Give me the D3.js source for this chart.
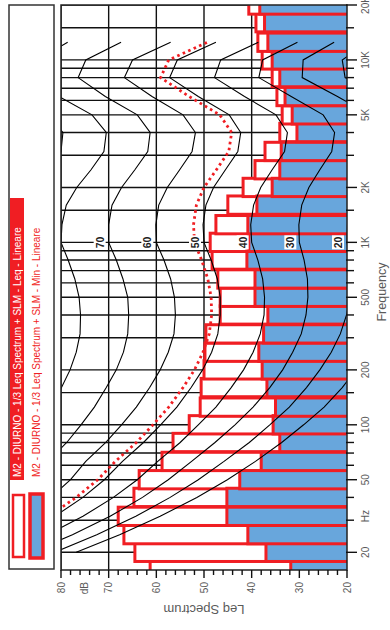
<!DOCTYPE html>
<html>
<head>
<meta charset="utf-8">
<script src="https://cdn.jsdelivr.net/npm/d3@7"></script>
<style>
  body { margin: 0; background: #fff; }
  svg { display: block; font-family: "Liberation Sans", Arial, sans-serif; }
</style>
</head>
<body>
<script>
// 1/3-octave band centres (Hz)
const bands = [16, 20, 25, 31.5, 40, 50, 63, 80, 100, 125, 160, 200, 250, 315, 400, 500,
  630, 800, 1000, 1250, 1600, 2000, 2500, 3150, 4000, 5000, 6300, 8000, 10000, 12500, 16000, 20000];
// Leq per band (dB)
const leqValues = [61.3, 64.5, 66.8, 68.0, 64.7, 63.6, 58.8, 56.5, 53.1, 50.8, 50.6, 50.0, 49.8, 49.6, 46.6, 46.6,
  47.1, 48.3, 48.7, 47.5, 45.0, 41.8, 39.3, 37.2, 34.1, 33.6, 34.7, 35.7, 37.8, 38.7, 39.1, 40.6];
// Min per band (dB)
const minValues = [31.8, 37.0, 40.8, 45.2, 45.2, 42.5, 38.0, 34.1, 35.5, 35.0, 36.8, 37.8, 38.5, 37.5, 36.6, 39.3,
  39.3, 41.0, 40.6, 40.8, 38.9, 35.7, 34.1, 33.8, 30.5, 31.5, 33.0, 34.1, 35.7, 36.6, 37.3, 38.3];

// Equal-loudness contours (ISO 226), dB SPL at these frequencies
const isoFreq = [20, 25, 31.5, 40, 50, 63, 80, 100, 125, 160, 200, 250, 315, 400, 500, 630, 800,
  1000, 1250, 1600, 2000, 2500, 3150, 4000, 5000, 6300, 8000, 10000, 12500];
const phon10 = [76.8, 67.7, 59.2, 51.5, 45.1, 39.2, 33.7, 29.1, 24.8, 21.0, 18.1, 15.6, 13.4, 11.9, 10.9, 10.1, 9.9,
  10.0, 9.7, 8.7, 7.2, 5.0, 2.6, 2.2, 4.8, 12.2, 20.4, 21.0, 15.5];
const phon20 = [81.3, 72.5, 64.3, 57.1, 51.2, 45.8, 40.5, 36.2, 32.1, 28.5, 25.7, 23.3, 21.4, 20.1, 19.4, 19.1, 19.4,
  20.0, 19.9, 19.2, 17.7, 15.4, 13.0, 12.5, 15.0, 22.0, 29.4, 29.2, 22.7];
const phon30 = [86.0, 77.6, 69.7, 62.9, 57.5, 52.6, 47.7, 43.5, 39.7, 36.2, 33.5, 31.4, 29.6, 28.6, 28.2, 28.3, 29.0,
  30.0, 30.1, 29.5, 28.0, 25.7, 23.2, 22.6, 25.0, 31.7, 38.5, 37.7, 30.4];
const phon40 = [91.0, 82.9, 75.4, 69.0, 64.0, 59.7, 55.0, 51.2, 47.5, 44.3, 41.7, 39.7, 38.2, 37.4, 37.3, 37.7, 38.7,
  40.0, 40.2, 39.6, 38.1, 35.7, 33.1, 32.5, 34.9, 41.5, 47.8, 46.5, 38.6];
const phon50 = [96.2, 88.5, 81.3, 75.4, 70.9, 67.1, 62.7, 59.1, 55.7, 52.7, 50.3, 48.4, 47.1, 46.6, 46.6, 47.2, 48.5,
  50.0, 50.2, 49.6, 48.0, 45.5, 42.9, 42.3, 44.7, 51.2, 57.2, 55.6, 47.5];
const phon60 = [101.7, 94.4, 87.6, 82.1, 78.0, 74.8, 70.6, 67.3, 64.2, 61.4, 59.2, 57.5, 56.3, 56.0, 56.2, 57.0, 58.4,
  60.0, 60.1, 59.5, 57.7, 55.1, 52.5, 51.8, 54.4, 60.9, 66.7, 65.0, 57.0];
const phon70 = [107.6, 100.7, 94.3, 89.2, 85.5, 82.8, 78.8, 75.8, 73.0, 70.5, 68.4, 66.9, 66.0, 65.8, 66.0, 67.0, 68.4,
  70.0, 70.0, 69.3, 67.3, 64.5, 61.8, 61.3, 64.0, 70.7, 76.4, 74.8, 67.4];
const phon80 = [113.7, 107.3, 101.3, 96.6, 93.3, 91.1, 87.4, 84.7, 82.2, 79.9, 78.1, 76.8, 76.0, 75.9, 76.2, 77.1, 78.5,
  80.0, 79.8, 78.9, 76.7, 73.7, 71.0, 70.5, 73.5, 80.4, 86.3, 84.9, 78.6];
const phon90 = [120.3, 114.4, 108.7, 104.4, 101.5, 99.8, 96.3, 94.0, 91.8, 89.8, 88.1, 87.1, 86.4, 86.4, 86.6, 87.5, 88.7,
  90.0, 89.5, 88.4, 85.9, 82.7, 80.0, 79.6, 82.9, 90.1, 96.4, 95.5, 90.9];
// Loudness contour of the measured spectrum (red dotted)
const phonSpectrum = [97.3, 89.7, 82.6, 76.8, 72.3, 68.6, 64.2, 60.7, 57.4, 54.4, 52.0, 50.2, 48.9, 48.4, 48.5, 49.2, 50.5,
  52.0, 52.2, 51.6, 50.0, 47.4, 44.8, 44.2, 46.7, 53.1, 59.1, 57.4, 49.3];
const contourValues = [phon10, phon20, phon30, phon40, phon50, phon60, phon70, phon80, phon90];
const labelledLevels = [20, 30, 40, 50, 60, 70];

// Axis ticks
const freqTicks = [20, 30, 40, 50, 60, 70, 80, 90, 100, 150, 200, 300, 400, 500, 600, 700, 800, 900,
  1000, 1500, 2000, 3000, 4000, 5000, 6000, 7000, 8000, 9000, 10000, 15000, 20000];
const freqLabelValues = [20, 50, 100, 200, 500, 1000, 2000, 5000, 10000, 20000];
const freqLabelTexts = ["20", "50", "100", "200", "500", "1K", "2K", "5K", "10K", "20K"];
const dbTicks = [20, 30, 40, 50, 60, 70, 80];

const legendTexts = [
  "M2 - DIURNO - 1/3 Leq Spectrum + SLM - Leq - Lineare",
  "M2 - DIURNO - 1/3 Leq Spectrum + SLM - Min - Lineare"
];

const RED = "#f01e23";
const BLUE = "#68a6dc";
const GRID = "#111";
const AXIS_TEXT = "#5a5a5a";

// The chart is laid out 630 wide x 390 high, then turned a quarter turn
const svg = d3.select("body").append("svg").attr("width", 390).attr("height", 630);
const g = svg.append("g").attr("transform", "translate(0,630) rotate(-90)");

const x = d3.scaleLog().domain([16, 20000]).range([60, 625]);
const y = d3.scaleLinear().domain([20, 80]).range([347, 61]);
const [x0, x1] = x.range();
const [yb, yt] = y.range();

g.append("defs").append("clipPath").attr("id", "plotClip")
  .append("rect").attr("x", x0).attr("y", yt).attr("width", x1 - x0).attr("height", yb - yt);

const plot = g.append("g").attr("clip-path", "url(#plotClip)");

// grid
plot.selectAll("line.fgrid").data(freqTicks).join("line")
  .attr("x1", d => x(d)).attr("x2", d => x(d)).attr("y1", yt).attr("y2", yb)
  .attr("stroke", GRID).attr("stroke-width", 1.4);
plot.selectAll("line.dgrid").data(d3.range(20, 81, 10)).join("line")
  .attr("x1", x0).attr("x2", x1).attr("y1", d => y(d)).attr("y2", d => y(d))
  .attr("stroke", GRID).attr("stroke-width", 1.4);

// 1/3-octave bars
const half = Math.pow(2, 1 / 6);
function drawBars(values, fill, width) {
  plot.append("g").selectAll("rect").data(bands.map((f, i) => ({ f, v: values[i] }))).join("rect")
    .attr("x", d => x(d.f / half))
    .attr("width", d => x(d.f * half) - x(d.f / half))
    .attr("y", d => y(d.v))
    .attr("height", d => y(20) - y(d.v) + 4)
    .attr("fill", fill).attr("stroke", RED).attr("stroke-width", width);
}
drawBars(leqValues, "#ffffff", 3);
drawBars(minValues, BLUE, 3);

// equal-loudness contours
const line = d3.line().x(d => x(d[0])).y(d => y(d[1]));
contourValues.forEach(vals => {
  plot.append("path").attr("d", line(isoFreq.map((f, i) => [f, vals[i]])))
    .attr("fill", "none").attr("stroke", "#000").attr("stroke-width", 1.1);
});
plot.append("path").attr("d", line(isoFreq.map((f, i) => [f, phonSpectrum[i]])))
  .attr("fill", "none").attr("stroke", RED).attr("stroke-width", 2.8)
  .attr("stroke-dasharray", "2.6,3.4");

// contour labels at 1 kHz
const lab = plot.append("g");
labelledLevels.forEach(p => {
  const cx = x(1000), cy = y(p) - 9;
  lab.append("rect").attr("x", cx - 7).attr("y", cy - 6).attr("width", 14).attr("height", 12).attr("fill", "#fff");
  lab.append("text").attr("x", cx).attr("y", cy + 4).attr("text-anchor", "middle")
    .attr("font-size", 10.5).attr("font-weight", "bold").attr("fill", "#222").text(p);
});

// frame
g.append("rect").attr("x", x0).attr("y", yt).attr("width", x1 - x0).attr("height", yb - yt)
  .attr("fill", "none").attr("stroke", "#222").attr("stroke-width", 1.5);

// frequency axis
const fAxis = g.append("g");
fAxis.selectAll("line").data(freqTicks).join("line")
  .attr("x1", d => x(d)).attr("x2", d => x(d)).attr("y1", yb - 1)
  .attr("y2", d => yb + (freqLabelValues.includes(d) ? 10 : 7))
  .attr("stroke", "#111").attr("stroke-width", 1.4);
fAxis.selectAll("text").data(freqLabelValues).join("text")
  .attr("x", d => x(d)).attr("y", yb + 22).attr("text-anchor", "middle")
  .attr("font-size", 10).attr("fill", AXIS_TEXT).text((d, i) => freqLabelTexts[i]);
fAxis.append("text").attr("x", 114).attr("y", yb + 22).attr("text-anchor", "middle")
  .attr("font-size", 10).attr("fill", AXIS_TEXT).text("Hz");
fAxis.append("text").attr("x", 338).attr("y", yb + 39).attr("text-anchor", "middle")
  .attr("font-size", 12.5).attr("fill", AXIS_TEXT).text("Frequency");

// level axis
const dAxis = g.append("g");
dAxis.selectAll("line").data(d3.range(20, 81, 2)).join("line")
  .attr("x1", x0).attr("x2", d => x0 - (d % 10 === 0 ? 8 : 5))
  .attr("y1", d => y(d)).attr("y2", d => y(d))
  .attr("stroke", "#111").attr("stroke-width", 1.4);
dAxis.selectAll("text").data(dbTicks).join("text")
  .attr("x", x0 - 12).attr("y", d => y(d) + 3.5).attr("text-anchor", "end")
  .attr("font-size", 10).attr("fill", AXIS_TEXT).text(d => d);
dAxis.append("text").attr("x", x0 - 12).attr("y", y(75) + 3.5).attr("text-anchor", "end")
  .attr("font-size", 10).attr("fill", AXIS_TEXT).text("dB");
dAxis.append("text").attr("transform", `translate(25,${(yt + yb) / 2}) rotate(-90)`)
  .attr("text-anchor", "middle").attr("font-size", 13).attr("fill", AXIS_TEXT).text("Leq Spectrum");

// legend
const leg = g.append("g");
leg.append("rect").attr("x", 61).attr("y", 9).attr("width", 564).attr("height", 45)
  .attr("fill", "#fff").attr("stroke", "#333").attr("stroke-width", 1.5);
leg.append("rect").attr("x", 73).attr("y", 13).attr("width", 62).attr("height", 11)
  .attr("fill", "#fff").attr("stroke", RED).attr("stroke-width", 2.5);
leg.append("rect").attr("x", 72).attr("y", 30).attr("width", 64).attr("height", 13)
  .attr("fill", BLUE).attr("stroke", RED).attr("stroke-width", 3.5);
leg.append("rect").attr("x", 150).attr("y", 10).attr("width", 282).attr("height", 14).attr("fill", RED);
leg.append("text").attr("x", 153).attr("y", 21).attr("font-size", 10).attr("fill", "#fff").text(legendTexts[0]);
leg.append("text").attr("x", 153).attr("y", 40).attr("font-size", 10).attr("fill", RED).text(legendTexts[1]);
</script>
</body>
</html>
